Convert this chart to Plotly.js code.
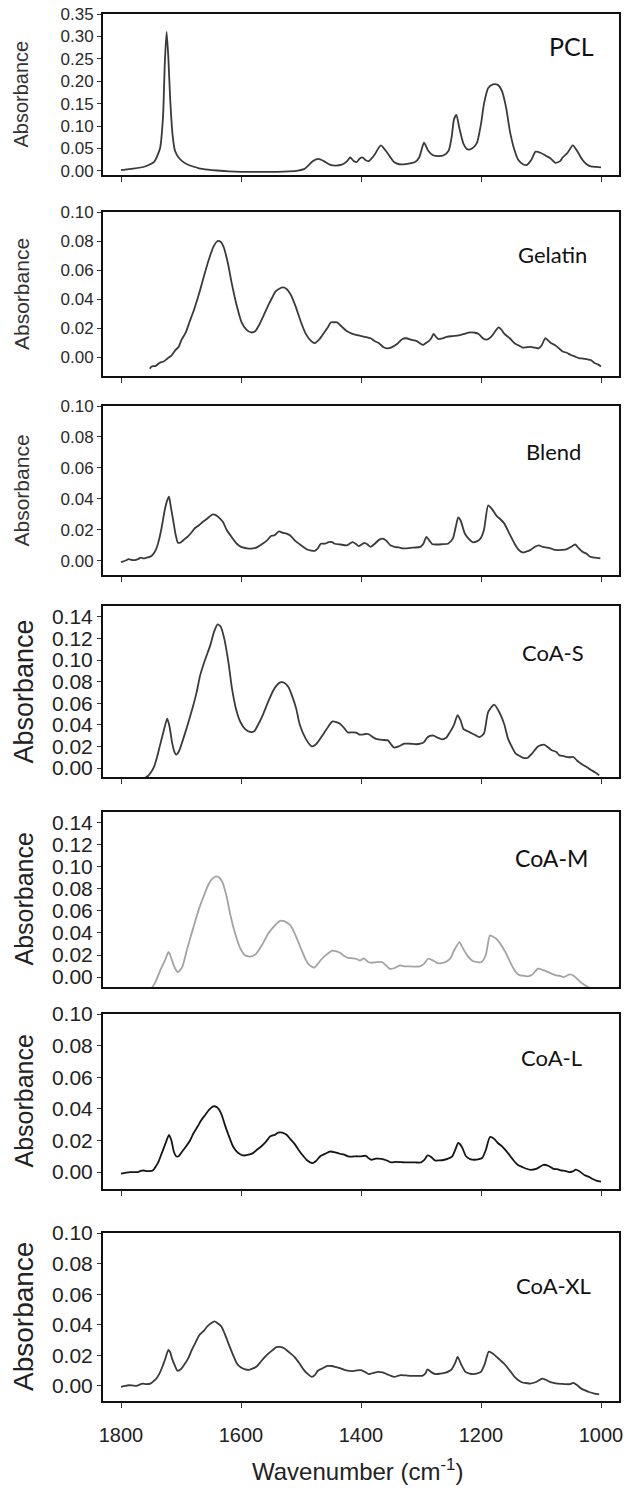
<!DOCTYPE html>
<html><head><meta charset="utf-8">
<script src="https://cdn.plot.ly/plotly-3.0.1.min.js"></script>
<style>html,body{margin:0;padding:0;background:#fff}</style>
</head><body><div id="chart" style="width:632px;height:1493px"></div>
<script>
// ---- Data (wavenumber cm^-1, absorbance) ----
const sampleNames = ["PCL","Gelatin","Blend","CoA-S","CoA-M","CoA-L","CoA-XL"];
const xTickVals = [1800,1600,1400,1200,1000];
const yAxisLabel = "Absorbance";
const xAxisLabel = "Wavenumber (cm<sup>-1</sup>)";

const pclX = [1800,1780,1760,1745,1735,1730,1727,1724,1721,1718,1714,1710,1704,1698,1690,1680,1670,1655,1640,1620,1600,1580,1560,1540,1520,1505,1495,1488,1480,1471,1462,1452,1442,1432,1423,1418,1412,1407,1402,1397,1392,1387,1378,1367,1356,1345,1336,1323,1310,1303,1295,1288,1280,1270,1262,1254,1249,1245,1241,1236,1229,1222,1215,1207,1200,1195,1188,1180,1172,1165,1158,1152,1145,1138,1130,1124,1116,1109,1100,1092,1084,1076,1068,1064,1056,1047,1040,1031,1024,1017,1008,1000];
const pclY = [0.002,0.005,0.01,0.02,0.05,0.12,0.24,0.31,0.25,0.16,0.08,0.045,0.03,0.022,0.015,0.01,0.006,0.003,0.001,-0.001,-0.002,-0.002,-0.002,-0.002,-0.001,0.001,0.004,0.012,0.022,0.027,0.022,0.014,0.012,0.014,0.022,0.03,0.022,0.02,0.028,0.03,0.024,0.022,0.035,0.057,0.04,0.02,0.015,0.016,0.02,0.03,0.063,0.045,0.035,0.033,0.035,0.045,0.075,0.115,0.125,0.095,0.06,0.048,0.05,0.062,0.105,0.15,0.185,0.193,0.192,0.178,0.14,0.09,0.05,0.025,0.015,0.013,0.025,0.043,0.04,0.034,0.028,0.018,0.022,0.03,0.04,0.057,0.045,0.025,0.015,0.01,0.009,0.008];

const gelX = [1752,1749,1742,1736,1729,1722,1716,1709,1704,1699,1692,1686,1678,1669,1661,1653,1646,1639,1634,1629,1622,1616,1608,1599,1591,1583,1576,1570,1562,1553,1548,1543,1537,1530,1524,1517,1509,1500,1492,1483,1477,1470,1463,1456,1450,1445,1440,1432,1424,1414,1404,1394,1384,1377,1370,1363,1357,1350,1340,1331,1324,1317,1307,1297,1291,1287,1283,1279,1275,1271,1264,1257,1247,1237,1228,1218,1210,1204,1197,1191,1186,1181,1176,1171,1166,1161,1152,1144,1137,1131,1124,1117,1110,1104,1099,1093,1088,1083,1077,1070,1064,1057,1051,1044,1037,1030,1024,1017,1011,1005,1000];
const gelY = [-0.008,-0.0065,-0.006,-0.004,-0.003,-0.0007,0.001,0.005,0.007,0.012,0.017,0.024,0.033,0.045,0.057,0.068,0.076,0.080,0.0795,0.076,0.065,0.052,0.037,0.024,0.019,0.017,0.018,0.022,0.029,0.037,0.041,0.045,0.047,0.048,0.047,0.043,0.035,0.024,0.016,0.011,0.0096,0.012,0.016,0.02,0.024,0.024,0.024,0.021,0.018,0.016,0.015,0.014,0.013,0.011,0.0096,0.007,0.006,0.0065,0.009,0.0125,0.013,0.012,0.011,0.0084,0.01,0.011,0.013,0.016,0.014,0.0125,0.013,0.014,0.0145,0.015,0.016,0.017,0.0168,0.016,0.013,0.012,0.013,0.015,0.018,0.0205,0.019,0.016,0.013,0.0096,0.008,0.0066,0.0068,0.007,0.0065,0.006,0.008,0.013,0.0115,0.0095,0.0084,0.006,0.0039,0.003,0.0016,0.0005,-0.0007,-0.001,-0.0014,-0.002,-0.004,-0.005,-0.0064];

const blendX = [1800,1793,1787,1782,1777,1772,1767,1762,1757,1752,1747,1742,1737,1732,1727,1723,1720,1717,1713,1709,1705,1700,1694,1689,1684,1677,1670,1664,1657,1651,1647,1642,1637,1630,1624,1615,1607,1600,1597,1590,1580,1572,1564,1557,1550,1544,1537,1530,1524,1517,1510,1500,1490,1483,1477,1472,1467,1460,1454,1448,1444,1434,1424,1419,1414,1409,1404,1399,1394,1389,1384,1377,1370,1364,1358,1351,1344,1337,1330,1324,1312,1301,1296,1291,1286,1281,1272,1264,1255,1247,1242,1238,1234,1227,1220,1214,1207,1201,1195,1188,1181,1174,1168,1161,1152,1144,1137,1131,1124,1118,1110,1104,1097,1090,1084,1077,1071,1064,1058,1050,1043,1037,1031,1024,1018,1010,1001];
const blendY = [-0.0009,0,0.001,0.0005,0.0004,0.001,0.002,0.0015,0.002,0.0025,0.004,0.007,0.013,0.022,0.033,0.039,0.0415,0.035,0.026,0.017,0.0116,0.012,0.014,0.0155,0.0176,0.021,0.023,0.025,0.027,0.029,0.030,0.0295,0.028,0.025,0.020,0.015,0.011,0.009,0.0086,0.008,0.008,0.009,0.011,0.013,0.016,0.0165,0.019,0.018,0.0175,0.016,0.013,0.01,0.0073,0.0066,0.0064,0.008,0.011,0.011,0.012,0.012,0.011,0.0105,0.010,0.011,0.012,0.011,0.0094,0.0105,0.0116,0.0105,0.009,0.011,0.0135,0.0143,0.013,0.010,0.009,0.0086,0.008,0.008,0.0085,0.009,0.011,0.0154,0.013,0.0107,0.0105,0.0107,0.011,0.0143,0.022,0.028,0.026,0.0176,0.014,0.012,0.0125,0.0143,0.02,0.0358,0.033,0.029,0.027,0.024,0.017,0.011,0.007,0.0054,0.006,0.0069,0.009,0.010,0.009,0.0085,0.008,0.007,0.0069,0.007,0.0073,0.009,0.0105,0.008,0.0058,0.0045,0.0026,0.002,0.0015];

const coasX = [1768,1760,1755,1750,1745,1740,1735,1729,1723,1719,1715,1711,1708,1703,1698,1690,1681,1674,1668,1660,1651,1645,1639,1634,1628,1621,1615,1608,1601,1593,1585,1578,1572,1563,1555,1546,1538,1533,1528,1521,1515,1508,1502,1492,1482,1477,1472,1467,1462,1455,1448,1441,1435,1428,1422,1415,1408,1403,1398,1393,1388,1381,1375,1365,1355,1350,1345,1337,1328,1318,1308,1301,1295,1290,1285,1279,1272,1265,1258,1252,1245,1239,1234,1229,1222,1215,1208,1202,1195,1188,1178,1168,1161,1155,1148,1142,1135,1129,1122,1115,1105,1095,1088,1082,1075,1069,1062,1056,1051,1046,1040,1033,1024,1016,1010,1003];
const coasY = [-0.01,-0.009,-0.0074,-0.004,0.001,0.01,0.021,0.034,0.0457,0.038,0.024,0.015,0.0124,0.016,0.024,0.038,0.055,0.07,0.086,0.10,0.114,0.126,0.133,0.131,0.120,0.098,0.0735,0.054,0.0426,0.036,0.0334,0.034,0.0396,0.05,0.061,0.072,0.078,0.0795,0.079,0.075,0.067,0.055,0.040,0.027,0.020,0.021,0.024,0.028,0.032,0.038,0.043,0.0425,0.041,0.037,0.033,0.033,0.0328,0.031,0.031,0.0315,0.0315,0.029,0.027,0.026,0.0256,0.022,0.019,0.02,0.0226,0.0225,0.022,0.0225,0.024,0.028,0.0297,0.030,0.028,0.0266,0.028,0.033,0.04,0.049,0.044,0.036,0.034,0.032,0.030,0.0287,0.032,0.0519,0.0587,0.050,0.04,0.0272,0.019,0.0133,0.011,0.0093,0.0095,0.0133,0.02,0.0216,0.019,0.0164,0.015,0.0117,0.011,0.0102,0.01,0.0102,0.007,0.004,0.001,-0.002,-0.004,-0.0068];

const coamX = [1750,1744,1738,1733,1728,1724,1721,1718,1715,1710,1705,1698,1690,1681,1674,1668,1661,1655,1648,1641,1636,1631,1624,1618,1610,1601,1594,1588,1581,1575,1565,1555,1545,1535,1527,1518,1510,1501,1494,1488,1478,1472,1465,1456,1448,1442,1435,1428,1422,1415,1408,1402,1395,1388,1382,1374,1365,1358,1352,1345,1335,1328,1322,1312,1302,1295,1288,1280,1272,1262,1255,1250,1245,1236,1232,1228,1222,1215,1206,1199,1192,1185,1178,1172,1165,1158,1150,1142,1135,1128,1122,1115,1105,1095,1088,1082,1075,1069,1062,1052,1045,1042,1037,1032,1026,1019,1014];
const coamY = [-0.011,-0.006,0.0015,0.008,0.0136,0.019,0.0227,0.02,0.015,0.008,0.0045,0.009,0.025,0.042,0.055,0.065,0.075,0.083,0.089,0.0913,0.09,0.086,0.073,0.057,0.04,0.0257,0.02,0.0187,0.019,0.021,0.029,0.039,0.046,0.051,0.0505,0.047,0.039,0.027,0.018,0.012,0.0085,0.012,0.0166,0.021,0.024,0.0235,0.022,0.019,0.0175,0.017,0.0166,0.015,0.017,0.0136,0.013,0.0136,0.0136,0.0105,0.0075,0.008,0.0106,0.0097,0.0097,0.0095,0.0097,0.012,0.0166,0.015,0.0127,0.013,0.015,0.018,0.024,0.0317,0.028,0.024,0.019,0.015,0.0135,0.0136,0.02,0.0378,0.036,0.0333,0.028,0.0212,0.012,0.0045,0.0015,0.0012,0.0006,0.002,0.0076,0.006,0.0045,0.003,0.0015,0.0012,0.0,0.0024,0.001,-0.0005,-0.003,-0.0055,-0.0076,-0.01,-0.012];

const coalX = [1800,1793,1785,1778,1772,1767,1762,1757,1752,1747,1742,1737,1732,1726,1720,1716,1712,1708,1704,1698,1692,1685,1679,1672,1666,1660,1653,1646,1640,1633,1627,1620,1613,1607,1600,1594,1587,1580,1574,1567,1559,1551,1544,1538,1531,1524,1518,1511,1504,1498,1490,1481,1475,1468,1460,1452,1443,1435,1428,1422,1415,1409,1401,1392,1388,1383,1375,1366,1358,1350,1342,1333,1325,1317,1309,1300,1295,1289,1283,1277,1269,1261,1255,1248,1243,1238,1232,1225,1218,1211,1205,1198,1192,1185,1178,1172,1164,1155,1147,1139,1130,1119,1108,1096,1088,1079,1073,1066,1060,1053,1047,1042,1036,1027,1020,1014,1007,1000];
const coalY = [-0.001,-0.0005,0,0,0,0.0008,0.001,0.0006,0.0006,0.001,0.0036,0.007,0.012,0.018,0.0236,0.02,0.013,0.01,0.01,0.013,0.016,0.02,0.0247,0.029,0.033,0.036,0.0395,0.0416,0.041,0.037,0.03,0.0226,0.016,0.013,0.011,0.0105,0.011,0.012,0.014,0.016,0.019,0.0226,0.0235,0.025,0.025,0.0236,0.021,0.018,0.014,0.011,0.0075,0.0057,0.007,0.010,0.0115,0.013,0.0125,0.0116,0.011,0.010,0.0098,0.010,0.010,0.0103,0.009,0.0078,0.0085,0.0084,0.0075,0.0061,0.0065,0.0063,0.0061,0.0062,0.0061,0.0061,0.0075,0.0105,0.0095,0.0074,0.0074,0.0078,0.0085,0.010,0.014,0.0184,0.016,0.010,0.0082,0.0078,0.008,0.0089,0.014,0.0222,0.021,0.0184,0.016,0.012,0.008,0.0046,0.003,0.0015,0.002,0.0046,0.004,0.002,0.0018,0.001,0.0008,0,0.0005,0.0015,0.0005,-0.002,-0.003,-0.0044,-0.0055,-0.006];

const coaxlX = [1800,1793,1787,1780,1774,1769,1764,1758,1751,1746,1741,1736,1731,1726,1721,1718,1715,1710,1706,1700,1695,1688,1682,1675,1669,1662,1656,1650,1644,1639,1633,1627,1620,1613,1607,1600,1593,1587,1580,1573,1567,1560,1554,1547,1541,1535,1528,1520,1511,1503,1495,1488,1482,1477,1472,1464,1456,1449,1443,1434,1426,1419,1413,1406,1400,1393,1387,1379,1371,1364,1357,1350,1344,1339,1334,1325,1315,1306,1298,1293,1289,1283,1276,1268,1259,1254,1249,1243,1239,1233,1226,1219,1213,1206,1200,1194,1187,1180,1174,1167,1161,1152,1144,1137,1131,1124,1118,1108,1098,1092,1085,1079,1072,1066,1059,1052,1046,1040,1033,1026,1020,1011,1003];
const coaxlY = [-0.0007,0,0.0004,0.0002,0,0.0008,0.0015,0.0012,0.0015,0.003,0.0048,0.008,0.0125,0.018,0.0235,0.022,0.018,0.013,0.0099,0.011,0.0136,0.018,0.0235,0.029,0.0334,0.036,0.039,0.041,0.0422,0.041,0.039,0.034,0.0268,0.02,0.0147,0.012,0.0108,0.0105,0.0114,0.013,0.0158,0.019,0.0213,0.0235,0.0253,0.0255,0.0246,0.022,0.019,0.015,0.0103,0.0075,0.0059,0.007,0.0099,0.0115,0.013,0.013,0.0125,0.0115,0.0103,0.0098,0.0097,0.0102,0.0103,0.009,0.0077,0.0085,0.0092,0.0088,0.0077,0.0065,0.0059,0.0065,0.007,0.0068,0.0066,0.0066,0.0066,0.008,0.0108,0.009,0.0077,0.008,0.0086,0.0095,0.0108,0.015,0.019,0.014,0.0092,0.008,0.0077,0.0082,0.0092,0.014,0.0224,0.021,0.019,0.0165,0.0143,0.01,0.0059,0.0035,0.0022,0.0018,0.0015,0.0025,0.0048,0.004,0.0026,0.002,0.0015,0.0013,0.0011,0.0011,0.002,0.0005,-0.0018,-0.003,-0.004,-0.005,-0.0055];

const seriesX = [pclX, gelX, blendX, coasX, coamX, coalX, coaxlX];
const seriesY = [pclY, gelY, blendY, coasY, coamY, coalY, coaxlY];
const yTickVals = [
  [0,0.05,0.10,0.15,0.20,0.25,0.30,0.35],
  [0,0.02,0.04,0.06,0.08,0.10],
  [0,0.02,0.04,0.06,0.08,0.10],
  [0,0.02,0.04,0.06,0.08,0.10,0.12,0.14],
  [0,0.02,0.04,0.06,0.08,0.10,0.12,0.14],
  [0,0.02,0.04,0.06,0.08,0.10],
  [0,0.02,0.04,0.06,0.08,0.10]
];

// ---- Layout geometry (pixels) ----
const W = 632, H = 1493;
const PL = 103, PR = 619, PT = 14, PB = 1401;
const panelPx = [[14,175],[212,376],[406,575],[606,777],[812,987],[1014,1189],[1233,1401]];
const yRanges = [[-0.009,0.35],[-0.013,0.10],[-0.0092,0.10],[-0.0083,0.150],[-0.009,0.1496],[-0.0107,0.10],[-0.0099,0.10]];
const xRange = [1830, 970];
const lineColors = ["#3a3a3a","#3a3a3a","#3a3a3a","#3a3a3a","#a3a3a3","#151515","#3a3a3a"];
const bigFont = [false,false,false,true,true,true,true];
const ylabSize = [20,21,21,27,25,25,28];
const ylabX = [21,21,21,23,23,23,23];
const nameSize = [25,22,22,22,23,22,22];
const labelPos = [[571,46],[552,254],[553,451],[553,652],[551,858],[551,1057],[553,1285]];
const FONT = "Liberation Sans, Arial, sans-serif";

const fy = y => (PB - y) / (PB - PT);
const fx = x => (x - PL) / (PR - PL);

const traces = [];
const layout = {
  width: W, height: H,
  margin: {l: PL, r: W - PR, t: PT, b: H - PB},
  paper_bgcolor: "#fff", plot_bgcolor: "#fff",
  showlegend: false,
  font: {family: FONT, color: "#222"},
  annotations: []
};

for (let i = 0; i < 7; i++) {
  const n = i === 0 ? "" : String(i + 1);
  traces.push({
    x: seriesX[i], y: seriesY[i], type: "scatter", mode: "lines",
    line: {color: lineColors[i], width: 1.8, shape: "spline", smoothing: 0.6},
    xaxis: "x" + n, yaxis: "y" + n, hoverinfo: "skip"
  });
  const last = i === 6;
  layout["xaxis" + n] = {
    domain: [0, 1], range: xRange, anchor: "y" + n,
    showline: true, mirror: true, linecolor: "#111", linewidth: 2,
    showgrid: false, zeroline: false,
    ticks: i === 4 ? "" : "outside", ticklen: 5, tickwidth: 1, tickcolor: "#333",
    tickmode: "array", tickvals: xTickVals, ticktext: xTickVals.map(String),
    showticklabels: last, ticklabelstandoff: 10,
    tickfont: {size: 20, family: FONT, color: "#222"}
  };
  const big = bigFont[i];
  layout["yaxis" + n] = {
    domain: [fy(panelPx[i][1]), fy(panelPx[i][0])], range: yRanges[i], anchor: "x" + n,
    showline: true, mirror: true, linecolor: "#111", linewidth: 2,
    showgrid: false, zeroline: false,
    ticks: "outside", ticklen: 4, tickwidth: 1, tickcolor: "#333",
    tickmode: "array", tickvals: yTickVals[i], ticktext: yTickVals[i].map(v => v.toFixed(2)),
    tickfont: big ? {size: 21, family: FONT, color: "#222"} : {size: 17, family: FONT, color: "#2a2a2a"}
  };
  const cy = (panelPx[i][0] + panelPx[i][1]) / 2;
  layout.annotations.push({
    xref: "paper", yref: "paper", x: fx(ylabX[i]), y: fy(cy),
    text: yAxisLabel, textangle: -90, showarrow: false, xanchor: "center", yanchor: "middle",
    font: {size: ylabSize[i], family: FONT, color: big ? "#222" : "#333"}
  });
  layout.annotations.push({
    xref: "paper", yref: "paper", x: fx(labelPos[i][0]), y: fy(labelPos[i][1]),
    text: sampleNames[i], showarrow: false, xanchor: "center", yanchor: "middle",
    font: {size: nameSize[i], family: "Lato, Open Sans, sans-serif", color: "#111"}
  });
}
layout.annotations.push({
  xref: "paper", yref: "paper", x: fx(357), y: fy(1470),
  text: xAxisLabel, showarrow: false, xanchor: "center", yanchor: "middle",
  font: {size: 24, family: FONT, color: "#222"}
});

Plotly.newPlot("chart", traces, layout, {staticPlot: true});
</script></body></html>
